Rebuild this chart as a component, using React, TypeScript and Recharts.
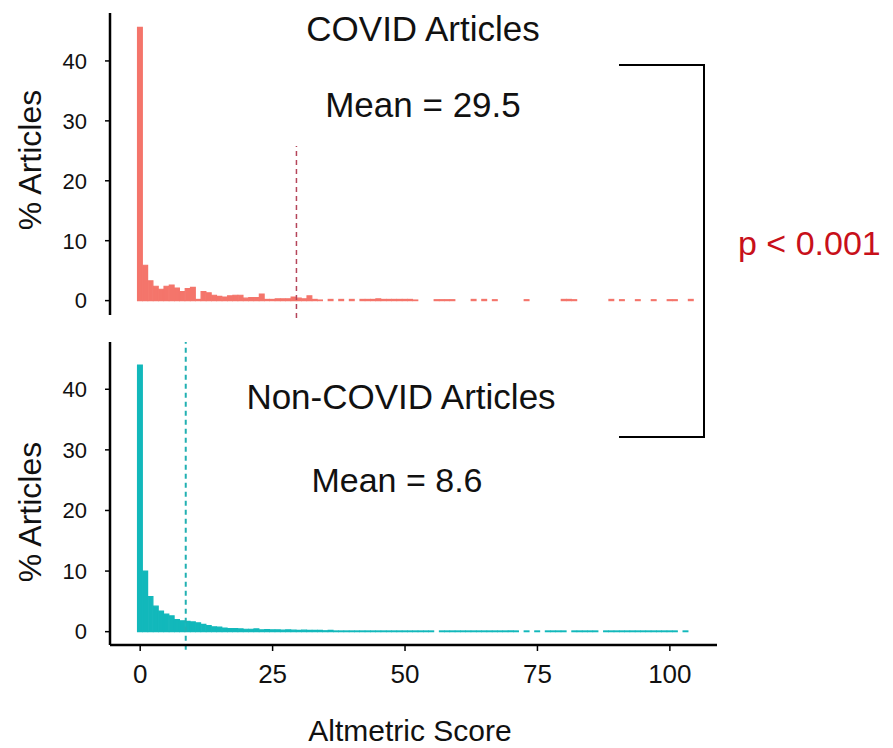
import React from 'react';
import { BarChart, Bar, XAxis, YAxis, ReferenceLine } from 'recharts';

// Altmetric score bins (integer scores 0..105)
const bins: number[] = Array.from({ length: 106 }, (_, i) => i);

// % of COVID articles per score bin
const covidPct: number[] = [
  45.6, 5.9, 3.3, 2.4, 1.9, 2.4, 2.6, 2.1, 1.5, 2.0,
  2.2, 0.2, 1.5, 1.3, 0.9, 0.7, 0.6, 0.8, 0.9, 0.9,
  0.4, 0.5, 0.5, 1.1, 0.2, 0.2, 0.3, 0.3, 0.3, 0.6,
  0.4, 0.3, 0.8, 0.2, 0.1, 0, 0.2, 0, 0.2, 0,
  0.2, 0, 0.2, 0.2, 0.2, 0.3, 0.2, 0.2, 0.2, 0.2,
  0.2, 0.2, 0.1, 0, 0, 0, 0.15, 0.15, 0.15, 0.15,
  0, 0, 0, 0.2, 0, 0.2, 0, 0.15, 0, 0,
  0, 0, 0, 0.15, 0, 0, 0, 0, 0, 0,
  0.2, 0.2, 0.15, 0, 0, 0, 0, 0, 0, 0.2,
  0, 0.15, 0, 0, 0.15, 0, 0, 0.15, 0, 0,
  0.15, 0.15, 0, 0, 0.2, 0,
];

// % of non-COVID articles per score bin
const nonCovidPct: number[] = [
  44.0, 10.0, 5.8, 4.2, 3.4, 2.9, 2.6, 2.0, 1.8, 1.7,
  1.6, 1.45, 1.2, 1.0, 0.8, 0.75, 0.6, 0.5, 0.5, 0.45,
  0.4, 0.4, 0.45, 0.3, 0.35, 0.3, 0.3, 0.25, 0.3, 0.25,
  0.2, 0.25, 0.2, 0.2, 0.2, 0.15, 0.2, 0.12, 0.12, 0.12,
  0.12, 0.12, 0.12, 0.12, 0.12, 0.12, 0.12, 0.12, 0.12, 0.12,
  0.12, 0.12, 0.12, 0.12, 0.12, 0.12, 0, 0.12, 0.12, 0.12,
  0.12, 0.12, 0.12, 0.12, 0.12, 0.12, 0.12, 0.12, 0.12, 0.12,
  0.12, 0.12, 0, 0.12, 0, 0.12, 0, 0.12, 0.12, 0.12,
  0.12, 0, 0.12, 0.12, 0.12, 0.12, 0.12, 0, 0.12, 0.12,
  0.12, 0.12, 0.12, 0.12, 0.12, 0.12, 0.12, 0.12, 0.12, 0.12,
  0.12, 0.12, 0, 0.12, 0, 0,
];

const xTicks = [0, 25, 50, 75, 100];
const yTicks = [0, 10, 20, 30, 40];
const covidMean = 29.5;
const nonCovidMean = 8.6;

const covidTitle = 'COVID Articles';
const nonCovidTitle = 'Non-COVID Articles';
const covidMeanLabel = 'Mean = 29.5';
const nonCovidMeanLabel = 'Mean = 8.6';
const pLabel = 'p < 0.001';
const yLabel = '% Articles';
const xLabel = 'Altmetric Score';

const covidData = bins.map((s, i) => ({ score: s, pct: covidPct[i] }));
const nonCovidData = bins.map((s, i) => ({ score: s, pct: nonCovidPct[i] }));

const FONT = '"Liberation Sans", Arial, sans-serif';
const X_DOMAIN: [number, number] = [-5.7, 108.9];
const PLOT_W = 893 - 50 - 60 - 176;
const BAR_W = PLOT_W / (X_DOMAIN[1] - X_DOMAIN[0]);

const RED = '#F4756B';
const TEAL = '#12B8BB';

export default function App() {
  return (
    <div style={{ position: 'absolute', left: 0, top: 0, width: 893, height: 748, background: '#fff', fontFamily: FONT }}>
      <div style={{ position: 'absolute', left: 0, top: 0 }}>
        <BarChart width={893} height={330} data={covidData} margin={{ top: 13, right: 176, bottom: 15, left: 50 }} barCategoryGap={0} barGap={0}>
          <XAxis type="number" dataKey="score" domain={X_DOMAIN} ticks={xTicks} hide height={0} />
          <YAxis
            type="number"
            domain={[-2.4, 48]}
            ticks={yTicks}
            width={60}
            allowDataOverflow
            axisLine={{ stroke: '#000', strokeWidth: 2.5 }}
            tickLine={{ stroke: '#000', strokeWidth: 1.5 }}
            tickSize={5}
            tickMargin={18}
            tick={{ fill: '#111', fontSize: 22, fontFamily: FONT }}
          />
          <Bar dataKey="pct" fill={RED} stroke={RED} strokeWidth={1.2} barSize={BAR_W} isAnimationActive={false} />
          <ReferenceLine
            segment={[{ x: covidMean, y: -2.9 }, { x: covidMean, y: 25.8 }]}
            stroke="#B5455A"
            strokeWidth={1.5}
            strokeDasharray="5 4"
            ifOverflow="visible"
          />
        </BarChart>
      </div>
      <div style={{ position: 'absolute', left: 0, top: 330 }}>
        <BarChart width={893} height={418} data={nonCovidData} margin={{ top: 12, right: 176, bottom: 63, left: 50 }} barCategoryGap={0} barGap={0}>
          <XAxis
            type="number"
            dataKey="score"
            domain={X_DOMAIN}
            ticks={xTicks}
            height={40}
            axisLine={{ stroke: '#000', strokeWidth: 2.5 }}
            tickLine={{ stroke: '#000', strokeWidth: 1.5 }}
            tickSize={6}
            tickMargin={14}
            tick={{ fill: '#111', fontSize: 26, fontFamily: FONT }}
          />
          <YAxis
            type="number"
            domain={[-2.2, 47.8]}
            ticks={yTicks}
            width={60}
            allowDataOverflow
            axisLine={{ stroke: '#000', strokeWidth: 2.5 }}
            tickLine={{ stroke: '#000', strokeWidth: 1.5 }}
            tickSize={5}
            tickMargin={18}
            tick={{ fill: '#111', fontSize: 22, fontFamily: FONT }}
          />
          <Bar dataKey="pct" fill={TEAL} stroke={TEAL} strokeWidth={1.2} barSize={BAR_W} isAnimationActive={false} />
          <ReferenceLine
            segment={[{ x: nonCovidMean, y: -3.0 }, { x: nonCovidMean, y: 47.8 }]}
            stroke="#22B0B2"
            strokeWidth={2}
            strokeDasharray="5 4"
            ifOverflow="visible"
          />
        </BarChart>
      </div>
      <svg width={893} height={748} style={{ position: 'absolute', left: 0, top: 0, pointerEvents: 'none' }}>
        <g fontFamily={FONT} fill="#111">
          <text x={423} y={28} fontSize={35} textAnchor="middle" dominantBaseline="central">{covidTitle}</text>
          <text x={423} y={104} fontSize={35} textAnchor="middle" dominantBaseline="central">{covidMeanLabel}</text>
          <text x={401} y={396} fontSize={35} textAnchor="middle" dominantBaseline="central">{nonCovidTitle}</text>
          <text x={397} y={480} fontSize={34} textAnchor="middle" dominantBaseline="central">{nonCovidMeanLabel}</text>
          <text x={738} y={243} fontSize={34} fill="#C8101A" textAnchor="start" dominantBaseline="central">{pLabel}</text>
          <text x={30} y={160} fontSize={32} textAnchor="middle" dominantBaseline="central" transform="rotate(-90 30 160)">{yLabel}</text>
          <text x={30} y={512} fontSize={32} textAnchor="middle" dominantBaseline="central" transform="rotate(-90 30 512)">{yLabel}</text>
          <text x={410} y={730} fontSize={30} textAnchor="middle" dominantBaseline="central">{xLabel}</text>
        </g>
        <polyline points="619,65 704,65 704,437 619,437" fill="none" stroke="#000" strokeWidth={2} />
      </svg>
    </div>
  );
}
